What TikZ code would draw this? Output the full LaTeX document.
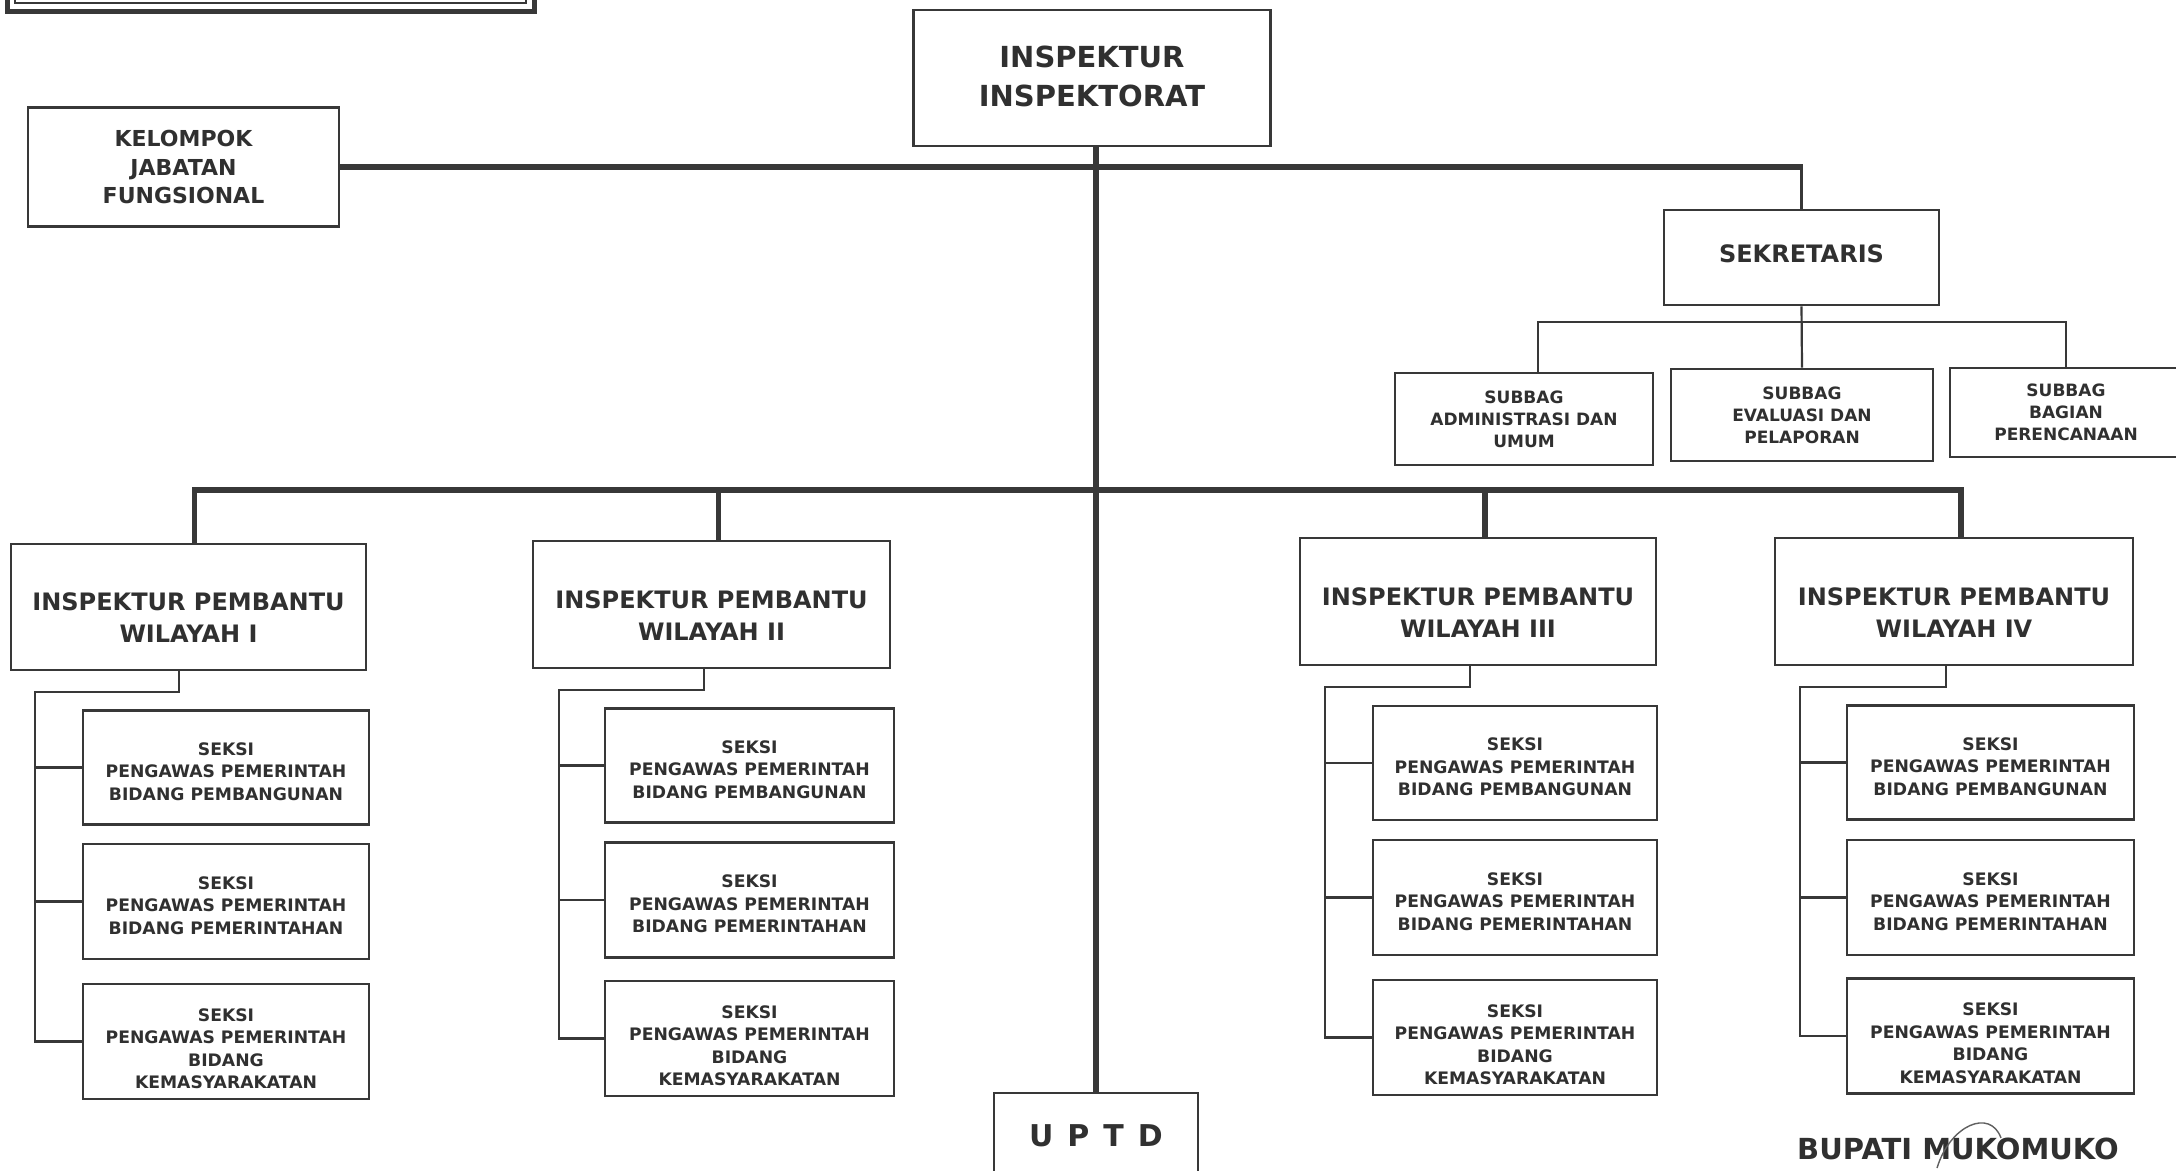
\documentclass[tikz,border=0pt]{standalone}
\usepackage{fontspec}
\setmainfont{DejaVu Sans}
\usetikzlibrary{calc}
\definecolor{lc}{HTML}{383838}
\definecolor{tc}{HTML}{303030}
\begin{document}
\begin{tikzpicture}[x=1pt,y=-1pt,
  box/.style={draw=lc, line width=2.6pt, fill=white, inner sep=0pt},
  txt/.style={align=center, inner sep=0pt, text=tc},
  fs/.style 2 args={font=\bfseries\fontsize{#1}{#2}\selectfont},
  heavyline/.style={draw=lc, line width=5.5pt},
  liteline/.style={draw=lc, line width=2.2pt}]
\fill[white] (0,0) rectangle (2176,1170);
\useasboundingbox (0,0) rectangle (2176,1170);
\clip (0,0) rectangle (2176,1170);
% partial title frame at top left
\draw[lc, line width=5pt] (7,-60) rectangle (534,11);
\draw[lc, line width=1.8pt] (15,-60) rectangle (526,3);
% boxes
\node[box, minimum width=357, minimum height=136] (insp) at (1092,78) {};
\node[box, minimum width=311, minimum height=119] (kel) at (183.5,167) {};
\node[box, minimum width=275, minimum height=95] (sek) at (1801.5,257.5) {};
\node[box, minimum width=258, minimum height=92] (sb1) at (1524,419) {};
\node[box, minimum width=262, minimum height=92] (sb2) at (1802,415) {};
\node[box, minimum width=232, minimum height=89] (sb3) at (2066,412.5) {};
\node[box, minimum width=355, minimum height=126] (ip1) at (188.5,607) {};
\node[box, minimum width=357, minimum height=127] (ip2) at (711.5,604.5) {};
\node[box, minimum width=356, minimum height=127] (ip3) at (1478,601.5) {};
\node[box, minimum width=358, minimum height=127] (ip4) at (1954,601.5) {};
\node[box, minimum width=204, minimum height=95] (uptd) at (1096,1140.5) {};
% texts
\node[txt, fs={29}{39}] (inspt) at ([yshift=2pt]insp.center) {INSPEKTUR\\INSPEKTORAT};
\node[txt, fs={22}{28.5}] (kelt) at (kel.center) {KELOMPOK\\JABATAN\\FUNGSIONAL};
\node[txt, fs={24}{30}] (sekt) at ([yshift=4pt]sek.center) {SEKRETARIS};
\node[txt, fs={17}{22}] (sb1t) at (sb1.center) {SUBBAG\\ADMINISTRASI DAN\\UMUM};
\node[txt, fs={17}{22}] (sb2t) at (sb2.center) {SUBBAG\\EVALUASI DAN\\PELAPORAN};
\node[txt, fs={17}{22}] (sb3t) at (sb3.center) {SUBBAG\\BAGIAN\\PERENCANAAN};
\node[txt, fs={24}{32}] (ip1t) at ([yshift=-11pt]ip1.center) {INSPEKTUR PEMBANTU\\WILAYAH I};
\node[txt, fs={24}{32}] (ip2t) at ([yshift=-11pt]ip2.center) {INSPEKTUR PEMBANTU\\WILAYAH II};
\node[txt, fs={24}{32}] (ip3t) at ([yshift=-11pt]ip3.center) {INSPEKTUR PEMBANTU\\WILAYAH III};
\node[txt, fs={24}{32}] (ip4t) at ([yshift=-11pt]ip4.center) {INSPEKTUR PEMBANTU\\WILAYAH IV};
\node[txt, fs={30}{36}] (uptdt) at ([yshift=5pt]uptd.center) {\spaceskip=14pt\relax U P T D};
\node[txt, fs={29}{34}] (bup) at (1958,1149) {BUPATI MUKOMUKO};
\draw[lc!80, line width=1.4pt] (1937,1168) .. controls (1950,1125) and (1990,1108) .. (2001,1138);
% main connectors
\draw[heavyline] (insp.south -| uptd.north) -- (uptd.north);
\draw[heavyline] (kel.east) -- ([xshift=1.1pt]kel.east -| sek.north);
\draw[liteline] (kel.east -| sek.north) -- (sek.north);
\coordinate (bus) at (1096,490);
\draw[heavyline] ([xshift=6pt]ip1.north) |- (bus) -| ([xshift=7pt]ip4.north);
\draw[heavyline] ([xshift=7pt]ip2.north) -- ([xshift=7pt]ip2.north |- bus);
\draw[heavyline] ([xshift=7pt]ip3.north) -- ([xshift=7pt]ip3.north |- bus);
\coordinate (sbus) at (1801.5,322);
\draw[liteline] ([xshift=14pt]sb1.north) |- (sbus) -| (sb3.north);
\draw[liteline] (sek.south) -- (sb2.north);
% seksi groups
\foreach \g/\cx/\w/\ya/\yb/\yc/\sx/\ey/\gx in {
  1/226/286/767.5/901.5/1041.5/179/692/35,
  2/749.5/289/765.5/900/1038.5/704/690/559,
  3/1515/284/763/897.5/1037.5/1470/687/1325,
  4/1990.5/287/762.5/897.5/1036/1946/687/1800}{
  \node[box, minimum width=\w, minimum height=114] (s\g a) at (\cx,\ya) {};
  \node[box, minimum width=\w, minimum height=115] (s\g b) at (\cx,\yb) {};
  \node[box, minimum width=\w, minimum height=115] (s\g c) at (\cx,\yc) {};
  \node[txt, fs={17.2}{22.5}] (s\g at) at ([yshift=-4pt]s\g a.center) {SEKSI\\PENGAWAS PEMERINTAH\\BIDANG PEMBANGUNAN};
  \node[txt, fs={17.2}{22.5}] (s\g bt) at ([yshift=-4pt]s\g b.center) {SEKSI\\PENGAWAS PEMERINTAH\\BIDANG PEMERINTAHAN};
  \node[txt, fs={17.2}{22.5}] (s\g ct) at ([yshift=-7pt]s\g c.center) {SEKSI\\PENGAWAS PEMERINTAH\\BIDANG\\KEMASYARAKATAN};
  \draw[liteline] (ip\g.south -| \sx,0) -- (\sx,\ey) -- (\gx,\ey) |- (s\g c.west);
  \draw[liteline] (s\g a.west) -- (s\g a.west -| \gx,0);
  \draw[liteline] (s\g b.west) -- (s\g b.west -| \gx,0);
}
\end{tikzpicture}
\end{document}
